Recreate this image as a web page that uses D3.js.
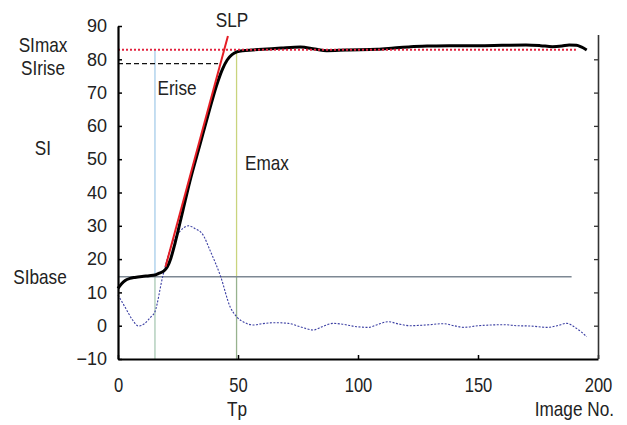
<!DOCTYPE html>
<html>
<head>
<meta charset="utf-8">
<script src="https://cdn.jsdelivr.net/npm/d3@7"></script>
<style>
  body { margin: 0; background: #fff; }
  svg text { font-family: "Liberation Sans", Arial, sans-serif; fill: #222; }
</style>
</head>
<body>
<svg id="chart" width="627" height="425"></svg>
<script>
// signal intensity curve (image no., SI)
var siX = [0, 1.5, 3, 5, 7, 10, 13, 15.4, 17, 19, 20.5, 22, 23.7, 27, 30, 34, 38, 41, 43.5, 45.5, 47.5, 49.5, 52, 56, 62, 68, 76, 82, 87, 95, 108, 115, 122, 130, 138, 150, 160, 170, 176, 181, 185, 188, 191, 193, 195.3]
var siY = [11.2, 12.6, 13.6, 14.2, 14.5, 14.8, 15.0, 15.2, 15.7, 16.4, 17.6, 20.2, 24.6, 34.5, 43.5, 54, 64.5, 72, 77, 79.8, 81.4, 82.2, 82.6, 82.8, 83.1, 83.4, 83.7, 83.1, 82.6, 82.8, 83.0, 83.4, 83.8, 84.0, 84.1, 84.1, 84.2, 84.3, 84.1, 83.8, 84.0, 84.3, 84.2, 83.7, 82.8]
// difference curve (blue dotted)
var dX = [0, 3, 6, 8.5, 11, 13.5, 15.4, 18.6, 22, 26, 29.3, 32, 35.5, 38.3, 42.8, 46.7, 49.4, 52.9, 56.4, 60, 65.5, 71, 75.8, 81.4, 85, 89.7, 94, 99.4, 104.3, 108, 112.6, 117, 121.7, 128, 135.6, 140, 144, 150, 155, 161, 166, 172, 178.6, 183, 187, 191, 195.3]
var dY = [9.2, 5.5, 1.8, -0.1, 0.6, 2.5, 4.2, 14.7, 23.5, 28.5, 30, 29.2, 27.2, 22.7, 14.7, 5.7, 2.7, 0.9, 0.2, 0.6, 0.9, 0.7, -0.3, -1.3, -0.3, 0.7, 0.4, -0.3, -0.5, 0.3, 1.2, 0.5, 0, 0.2, 0.6, 0, -0.5, 0, 0.2, 0.3, 0, -0.1, -0.5, 0, 0.7, -0.8, -3.3]
// slope line SLP
var slpX = [19.8, 45.8]
var slpY = [17.7, 87]
// reference levels
var siMax = 82.9, siRise = 78.7, siBase = 14.7
var siMaxEnd = 190.8, siRiseEnd = 41.7, siBaseEnd = 189
var eRiseX = 15.4, eRiseTop = 83, eMaxX = 49.4, eMaxTop = 82
var rightAxisTop = 87.3

var xTicks = [0, 50, 100, 150, 200]
var yTicks = [-10, 0, 10, 20, 30, 40, 50, 60, 70, 80, 90]
var rightTicks = [0, 10, 20, 30, 40, 50, 60, 70, 80]

var svg = d3.select('#chart')
var x = d3.scaleLinear().domain([0, 200]).range([118, 598])
var y = d3.scaleLinear().domain([-10, 90]).range([359, 26])

var line = d3.line().x(d => x(d[0])).y(d => y(d[1]))
var smooth = d3.line().x(d => x(d[0])).y(d => y(d[1])).curve(d3.curveMonotoneX)

// vertical markers, split at SIbase (colour changes below the base line)
function vline(xv, y0, y1, col) {
  svg.append('path').attr('d', line([[xv, y0], [xv, y1]]))
    .attr('stroke', col).attr('stroke-width', 1.3).attr('fill', 'none')
}
vline(eRiseX, eRiseTop, siBase, '#a6cdea')
vline(eRiseX, siBase, -10, '#a9c9b4')
vline(eMaxX, eMaxTop, siBase, '#c9d47e')
vline(eMaxX, siBase, -10, '#97b28e')

// SIbase
svg.append('path').attr('d', line([[0, siBase], [siBaseEnd, siBase]]))
  .attr('stroke', '#7d8893').attr('stroke-width', 1.6).attr('fill', 'none')
// SIrise dashed
svg.append('path').attr('d', line([[0, siRise], [siRiseEnd, siRise]]))
  .attr('stroke', '#111').attr('stroke-width', 1.3).attr('stroke-dasharray', '5,3').attr('fill', 'none')

// difference curve
svg.append('path').attr('d', smooth(d3.zip(dX, dY)))
  .attr('stroke', '#3b3fa3').attr('stroke-width', 1.1).attr('stroke-dasharray', '2,1.5').attr('fill', 'none')

// SI curve
svg.append('path').attr('d', smooth(d3.zip(siX, siY)))
  .attr('stroke', '#000').attr('stroke-width', 3).attr('fill', 'none').attr('stroke-linejoin', 'round')

// SImax dotted red
svg.append('path').attr('d', line([[0, siMax], [siMaxEnd, siMax]]))
  .attr('stroke', '#e2233f').attr('stroke-width', 2).attr('stroke-dasharray', '2,2').attr('fill', 'none')

// SLP
svg.append('path').attr('d', line(d3.zip(slpX, slpY)))
  .attr('stroke', '#e51e25').attr('stroke-width', 2).attr('fill', 'none')

// axes
var gl = svg.append('g').attr('transform', 'translate(' + x(0) + ',0)')
  .call(d3.axisLeft(y).tickValues(yTicks).tickSizeInner(-4).tickSizeOuter(0).tickPadding(11))
gl.select('.domain').attr('stroke', '#000').attr('stroke-width', 2.2)
gl.selectAll('.tick line').attr('stroke', '#000').attr('stroke-width', 1.5)
gl.selectAll('.tick text').style('font-size', '18px')

var gb = svg.append('g').attr('transform', 'translate(0,' + y(-10) + ')')
  .call(d3.axisBottom(x).tickValues(xTicks).tickSizeInner(-4).tickSizeOuter(0).tickPadding(19))
gb.select('.domain').attr('stroke', '#000').attr('stroke-width', 2.2)
gb.selectAll('.tick line').attr('stroke', '#000').attr('stroke-width', 1.5)
gb.selectAll('.tick text').style('font-size', '20px').attr('transform', 'scale(0.83,1)')

var gr = svg.append('g').attr('transform', 'translate(' + x(200) + ',0)')
  .call(d3.axisRight(y).tickValues(rightTicks).tickSizeInner(-4).tickSizeOuter(0).tickFormat(''))
gr.select('.domain').attr('d', 'M0.5,' + y(rightAxisTop) + 'V' + y(-10))
  .attr('stroke', '#333').attr('stroke-width', 1.6)
gr.selectAll('.tick line').attr('stroke', '#333').attr('stroke-width', 1.3)

svg.selectAll('.tick text').attr('fill', '#222').style('font-family', '"Liberation Sans", Arial, sans-serif')

// labels
var labels = [
  ['SImax', 43, 52, 'middle'],
  ['SIrise', 43, 75, 'middle'],
  ['SI', 43, 155, 'middle'],
  ['SIbase', 40, 284, 'middle'],
  ['SLP', 232, 27, 'middle'],
  ['Erise', 177, 95, 'middle'],
  ['Emax', 267, 170, 'middle'],
  ['Tp', 237, 416, 'middle'],
  ['Image No.', 614, 416, 'end']
]
svg.selectAll('text.lbl').data(labels).join('text').attr('class', 'lbl')
  .attr('transform', d => 'translate(' + d[1] + ',' + d[2] + ') scale(0.86,1)')
  .attr('text-anchor', d => d[3])
  .style('font-size', '20px').text(d => d[0])
</script>
</body>
</html>
